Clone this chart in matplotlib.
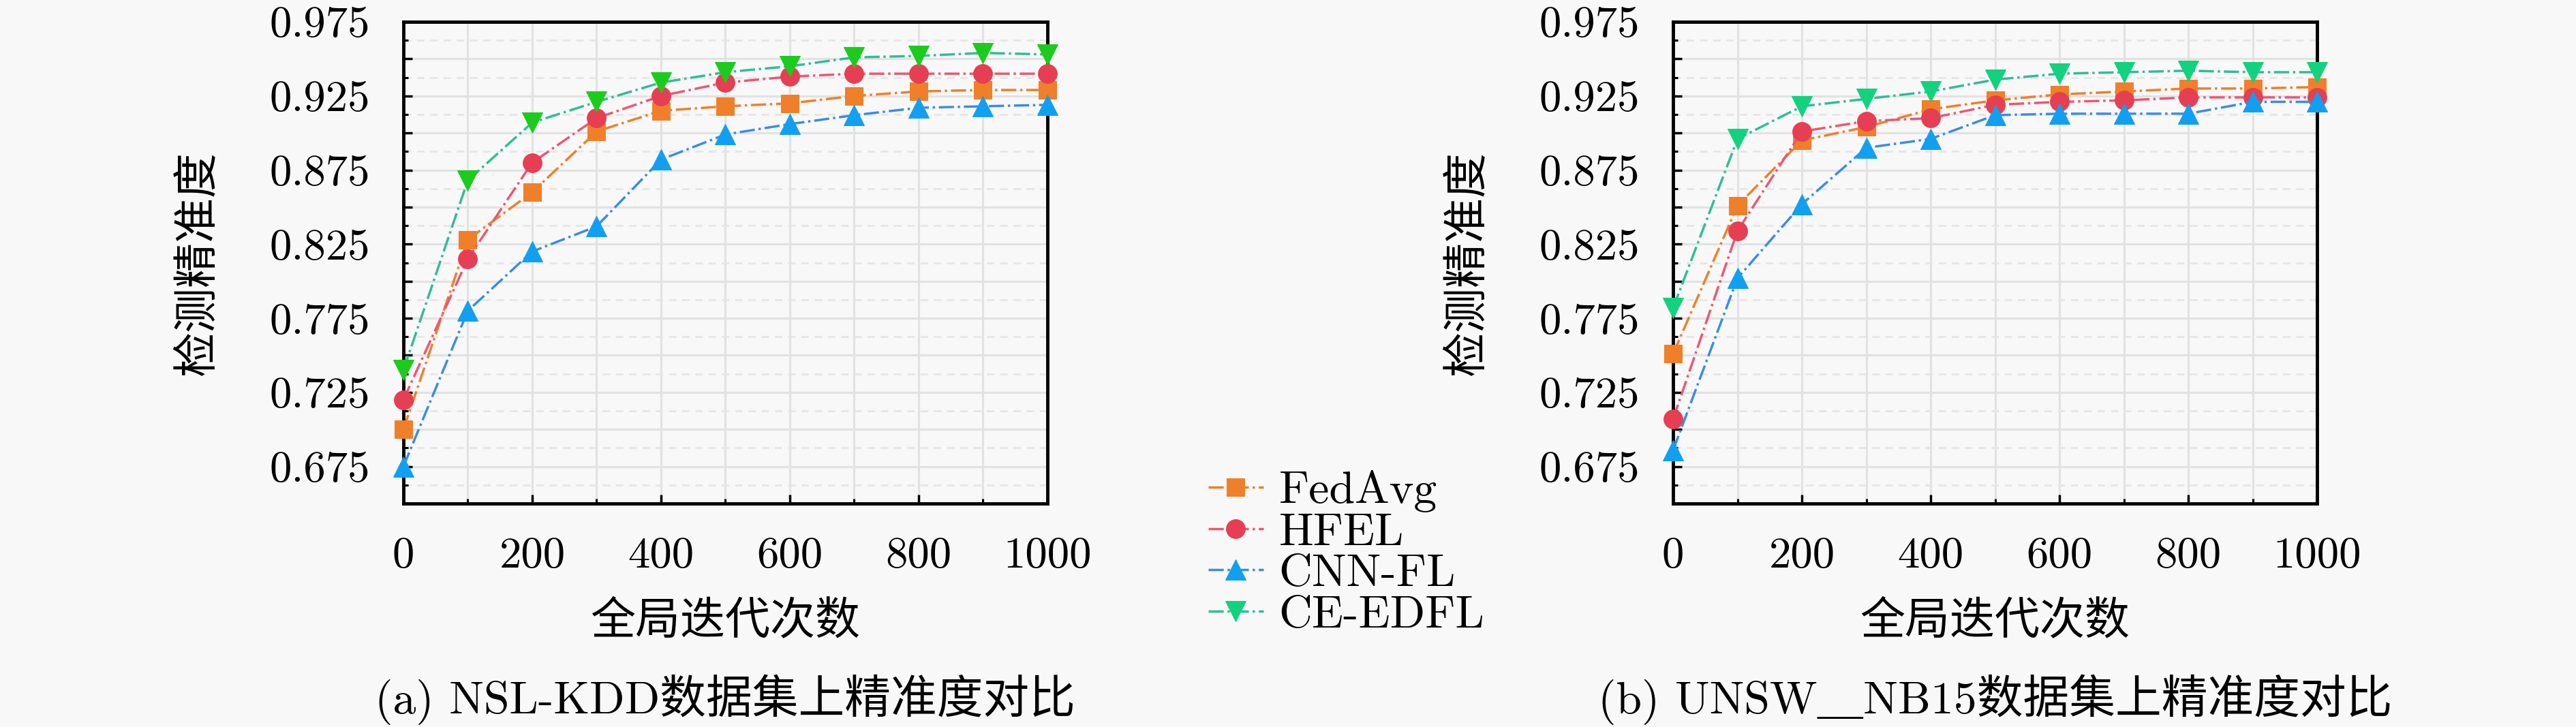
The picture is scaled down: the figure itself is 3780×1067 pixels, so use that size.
import matplotlib
matplotlib.use("Agg")
import matplotlib.pyplot as plt
from matplotlib.ticker import MultipleLocator, FuncFormatter

# ---------------- data ----------------
iterations = [0, 100, 200, 300, 400, 500, 600, 700, 800, 900, 1000]
series_names = ["FedAvg", "HFEL", "CNN-FL", "CE-EDFL"]

nsl_fedavg = [0.700, 0.828, 0.860, 0.901, 0.915, 0.918, 0.920, 0.925, 0.928, 0.929, 0.929]
nsl_hfel   = [0.720, 0.815, 0.880, 0.910, 0.925, 0.934, 0.938, 0.940, 0.940, 0.940, 0.940]
nsl_cnnfl  = [0.675, 0.780, 0.820, 0.837, 0.882, 0.899, 0.906, 0.912, 0.917, 0.918, 0.919]
nsl_ceedfl = [0.740, 0.868, 0.907, 0.921, 0.934, 0.941, 0.945, 0.951, 0.952, 0.954, 0.953]

unsw_fedavg = [0.751, 0.851, 0.895, 0.904, 0.916, 0.922, 0.926, 0.928, 0.930, 0.930, 0.931]
unsw_hfel   = [0.707, 0.834, 0.901, 0.908, 0.910, 0.919, 0.921, 0.922, 0.924, 0.924, 0.924]
unsw_cnnfl  = [0.686, 0.802, 0.852, 0.890, 0.896, 0.912, 0.913, 0.913, 0.913, 0.921, 0.921]
unsw_ceedfl = [0.782, 0.896, 0.918, 0.923, 0.928, 0.936, 0.940, 0.941, 0.942, 0.941, 0.941]

ytick_labels = ["0.675", "0.725", "0.775", "0.825", "0.875", "0.925", "0.975"]
xtick_labels = ["0", "200", "400", "600", "800", "1000"]

ylabel_text = "检测精准度"
xlabel_text = "全局迭代次数"
caption_a = "(a) NSL-KDD数据集上精准度对比"
caption_b = "(b) UNSW\uFF3FNB15数据集上精准度对比"

# ---------------- style ----------------
BG = "#F8F8F8"
FONT = ["cmr10", "Noto Sans CJK SC", "DejaVu Serif"]
plt.rcParams["font.family"] = FONT
plt.rcParams["axes.unicode_minus"] = False

markers = ["s", "o", "^", "v"]
msizes = [7.6, 8.0, 8.8, 8.8]
line_colors = ["#F07F2A", "#EE5673", "#3A8CE8", "#2EBE97"]
marker_colors_a = ["#F07F2A", "#E63E52", "#11A0F0", "#1DCB1D"]
marker_colors_b = ["#F07F2A", "#E63E52", "#11A0F0", "#12D27E"]

fig = plt.figure(figsize=(15.12, 4.268), dpi=250, facecolor=BG)

ax_a = fig.add_axes([0.1566, 0.3074, 0.2500, 0.6626])
ax_b = fig.add_axes([0.6495, 0.3074, 0.2500, 0.6626])

datasets = [
    (ax_a, [nsl_fedavg, nsl_hfel, nsl_cnnfl, nsl_ceedfl], marker_colors_a, caption_a),
    (ax_b, [unsw_fedavg, unsw_hfel, unsw_cnnfl, unsw_ceedfl], marker_colors_b, caption_b),
]

label_vals = [float(s) for s in ytick_labels]


def yfmt(v, pos):
    for s, lv in zip(ytick_labels, label_vals):
        if abs(v - lv) < 1e-6:
            return s
    return ""


def xfmt(v, pos):
    for s in xtick_labels:
        if abs(v - float(s)) < 1e-6:
            return s
    return ""


handles_b = None
for ax, ys, mcols, cap in datasets:
    ax.set_facecolor(BG)
    hs = []
    for name, y, mk, ms, lc, mc in zip(series_names, ys, markers, msizes, line_colors, mcols):
        h, = ax.plot(iterations, y, linestyle="-.", color=lc, lw=1.0,
                     marker=mk, markersize=ms, markerfacecolor=mc,
                     markeredgecolor=mc, markeredgewidth=0.3,
                     label=name, clip_on=False, zorder=3)
        hs.append(h)
    handles_b = hs

    ax.set_xlim(0, 1000)
    ax.set_ylim(0.65, 0.975)

    ax.xaxis.set_major_locator(MultipleLocator(200))
    ax.xaxis.set_minor_locator(MultipleLocator(100))
    ax.xaxis.set_major_formatter(FuncFormatter(xfmt))
    ax.yaxis.set_major_locator(MultipleLocator(0.025))
    ax.yaxis.set_minor_locator(MultipleLocator(0.0125))
    ax.yaxis.set_major_formatter(FuncFormatter(yfmt))

    ax.tick_params(axis="both", which="major", direction="in", length=3.8, width=1.0,
                   labelsize=18.7, pad=14, top=False, right=False)
    ax.tick_params(axis="both", which="minor", direction="in", length=2.0, width=0.9,
                   top=False, right=False)

    ax.grid(True, which="major", axis="both", color="#E2E2E2", lw=0.9, ls="-", zorder=0)
    ax.grid(True, which="minor", axis="x", color="#E2E2E2", lw=0.9, ls="-", zorder=0)
    ax.grid(True, which="minor", axis="y", color="#E6E6E6", lw=0.8, ls=(0, (4, 3)), zorder=0)
    ax.set_axisbelow(True)

    for sp in ax.spines.values():
        sp.set_linewidth(1.4)
        sp.set_color("black")

    ax.set_ylabel(ylabel_text, fontsize=19, family=FONT)
    ax.yaxis.set_label_coords(-0.287, 0.5)
    ax.set_xlabel(xlabel_text, fontsize=19, family=FONT, va="center")
    ax.xaxis.set_label_coords(0.5, -0.245)

    bb = ax.get_position()
    fig.text((bb.x0 + bb.x1) / 2, 0.0375, cap, ha="center", va="center",
             fontsize=19.5, family=FONT)

fig.legend(handles_b, series_names, loc="center left", bbox_to_anchor=(0.469, 0.239),
           frameon=False, borderpad=0, borderaxespad=0, handlelength=1.2,
           handletextpad=0.33, labelspacing=0.0, fontsize=19.5)

fig.savefig("out.png", dpi=250, facecolor=BG)
